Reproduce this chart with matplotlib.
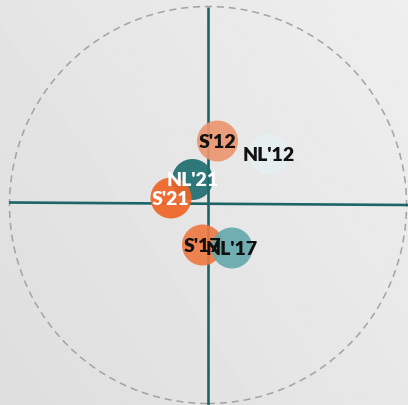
import numpy as np
import matplotlib
matplotlib.use("Agg")
import matplotlib.pyplot as plt
from matplotlib.patches import Circle

# Data (position relative to the cross of the two axes)
labels = ["S'12", "NL'12", "NL'21", "S'21", "S'17", "NL'17"]
x_vals = [9.0, 60.5, -16.0, -37.5, -6.0, 23.5]
y_vals = [63.0, 50.0, 24.5, 6.0, -41.0, -44.0]
colors = ["#EC9670", "#E6F0F0", "#1E6F70", "#EE6527", "#EE7A44", "#67AAAD"]
text_colors = ["#111111", "#111111", "#FFFFFF", "#FFFFFF", "#111111", "#111111"]

W, H = 408, 405
fig = plt.figure(figsize=(W / 100, H / 100), dpi=100)

# background gradient
bg = fig.add_axes([0, 0, 1, 1])
gx, gy = np.meshgrid(np.linspace(0, 1, 200), np.linspace(0, 1, 200))
grad = 0.87 + 0.065 * (gx * 0.6 + (1 - gy) * 0.4)
bg.imshow(grad, cmap="gray", vmin=0, vmax=1, extent=[0, 1, 0, 1], aspect="auto", origin="upper")
bg.axis("off")

ax = fig.add_axes([0, 0, 1, 1])
ax.patch.set_alpha(0)
ax.set_xlim(-208.5, W - 208.5)
ax.set_ylim(204 - H, 204)
ax.set_aspect("equal")
ax.axis("off")

# dashed outer circle
outer = Circle((-0.5, -1.0), 198.5, fill=False, edgecolor="#A3A3A3", lw=1.1,
               linestyle=(0, (4.6, 3.2)), zorder=1)
ax.add_patch(outer)

axis_color = "#1F6467"
ax.plot([0, 0], [197.5, 204 - H], color=axis_color, lw=1.9, zorder=2, solid_capstyle="butt")
ax.plot([-199.5, W - 208.5], [1.5, -1.0], color=axis_color, lw=1.9, zorder=2, solid_capstyle="butt")

for i, (lab, x, y, c, tc) in enumerate(zip(labels, x_vals, y_vals, colors, text_colors)):
    ax.add_patch(Circle((x, y), 20.5, facecolor=c, edgecolor="none", alpha=0.92, zorder=3 + i * 0.01))
for lab, x, y, tc in zip(labels, x_vals, y_vals, text_colors):
    ax.text(x, y - 1.5, lab, ha="center", va="center", color=tc, fontsize=14,
            fontweight="heavy", family=["Lato", "DejaVu Sans"], zorder=5)

fig.savefig("out.png", dpi=100)
